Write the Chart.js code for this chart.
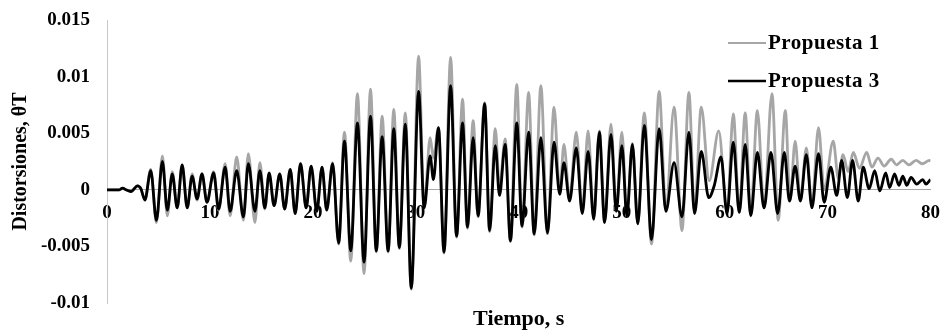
<!DOCTYPE html>
<html>
<head>
<meta charset="utf-8">
<script src="https://cdn.jsdelivr.net/npm/chart.js@4.4.1/dist/chart.umd.min.js"></script>
<style>
  html, body { margin: 0; padding: 0; background: #fff; }
  canvas { display: block; }
</style>
</head>
<body>
<canvas id="chart" width="952" height="335"></canvas>
<script>
// Series names
const seriesNames = ['Propuesta 1', 'Propuesta 3'];

// Propuesta 1 (grey): time of each peak / trough and its value
const tiempo1 = [
  0, 1.2, 1.52, 1.85, 2.33, 2.97, 3.29, 3.68, 4.25, 4.8,
  5.38, 5.86, 6.34, 6.82, 7.3, 7.79, 8.27, 8.75, 9.23, 9.71,
  10.36, 10.84, 11.48, 11.96, 12.6, 13.25, 13.73, 14.37, 14.85, 15.33,
  15.75, 16.23, 16.78, 17.26, 17.8, 18.28, 18.8, 19.35, 19.83, 20.38,
  20.89, 21.34, 21.92, 22.5, 23.07, 23.68, 24.33, 24.97, 25.6, 26.16,
  26.73, 27.31, 27.86, 28.4, 28.98, 29.56, 30.27, 30.81, 31.39, 31.71,
  32.2, 32.74, 33.38, 33.96, 34.54, 35.02, 35.57, 36.05, 36.69, 37.17,
  37.72, 38.13, 38.68, 39.19, 39.81, 40.32, 40.96, 41.5, 42.15, 42.79,
  43.43, 43.98, 44.39, 44.94, 45.59, 46.17, 46.74, 47.28, 47.83, 48.34,
  48.96, 49.47, 50.02, 50.5, 51.04, 51.56, 52.2, 52.9, 53.64, 54.29,
  55.09, 55.86, 56.53, 57.08, 57.73, 58.5, 59.43, 60.23, 60.84, 61.42,
  62.0, 62.54, 63.18, 63.83, 64.6, 65.2, 65.9, 66.35, 66.85, 67.36,
  67.94, 68.48, 69.12, 69.67, 70.55, 71.05, 71.5, 72.0, 72.5, 73.1,
  73.8, 74.3, 74.9, 75.5, 76.18, 76.7, 77.3, 77.9, 78.6, 79.2,
  79.9, 80
];
const prop1 = [
  0, 0, 0.00015, 0, -0.00015, 0.00035, 0.0001, -0.0009, 0.0018, -0.0029,
  0.003, -0.0023, 0.0016, -0.0016, 0.0022, -0.0016, 0.0014, -0.0009, 0.0014, -0.0011,
  0.0016, -0.0018, 0.0023, -0.0023, 0.0029, -0.0027, 0.0032, -0.0029, 0.0024, -0.0017,
  0.0014, -0.0014, 0.0014, -0.0017, 0.0018, -0.0021, 0.0023, -0.0016, 0.0021, -0.0019,
  0.002, -0.0018, 0.0024, -0.0048, 0.0051, -0.0063, 0.0085, -0.0074, 0.0089, -0.0055,
  0.0065, -0.0055, 0.0071, -0.0052, 0.0068, -0.0088, 0.0118, -0.0015, 0.0046, 0.0028,
  0.0055, -0.0056, 0.0117, -0.0042, 0.008, -0.0034, 0.0061, -0.0024, 0.0077, -0.0037,
  0.0054, 0.0002, 0.0045, -0.0046, 0.0093, -0.0033, 0.0086, -0.004, 0.0092, -0.0039,
  0.0073, -0.0002, 0.004, -0.0008, 0.0051, -0.0019, 0.0052, -0.0025, 0.0052, -0.0028,
  0.0058, -0.0018, 0.0051, -0.0022, 0.0041, -0.003, 0.0068, -0.0048, 0.0087, -0.0017,
  0.0073, -0.0036, 0.0086, -0.0019, 0.0073, 0.0008, 0.0052, -0.002, 0.0067, -0.002,
  0.0068, -0.0022, 0.007, -0.0016, 0.0085, -0.0027, 0.007, -0.001, 0.0043, -0.0009,
  0.0037, -0.0014, 0.0055, 0.0000, 0.0043, 0.001, 0.0031, 0.0016, 0.0033, 0.0019,
  0.0033, 0.002, 0.0028, 0.0021, 0.0027, 0.0022, 0.0026, 0.0022, 0.0026, 0.0023,
  0.0026, 0.0025
];

// Propuesta 3 (black)
const tiempo3 = [
  0, 1.2, 1.52, 1.85, 2.33, 2.97, 3.29, 3.68, 4.25, 4.8,
  5.38, 5.86, 6.34, 6.82, 7.3, 7.79, 8.27, 8.75, 9.23, 9.71,
  10.36, 10.84, 11.48, 11.96, 12.6, 13.25, 13.73, 14.37, 14.85, 15.33,
  15.75, 16.23, 16.78, 17.26, 17.8, 18.28, 18.8, 19.35, 19.83, 20.38,
  20.89, 21.34, 21.92, 22.5, 23.07, 23.68, 24.33, 24.97, 25.6, 26.16,
  26.73, 27.31, 27.86, 28.4, 28.98, 29.56, 30.27, 30.81, 31.39, 31.71,
  32.2, 32.74, 33.38, 33.96, 34.54, 35.02, 35.57, 36.05, 36.69, 37.17,
  37.72, 38.13, 38.68, 39.19, 39.81, 40.32, 40.96, 41.5, 42.15, 42.79,
  43.43, 43.98, 44.39, 44.94, 45.59, 46.17, 46.74, 47.28, 47.83, 48.34,
  48.96, 49.47, 50.02, 50.5, 51.04, 51.56, 52.2, 52.9, 53.64, 54.29,
  55.09, 55.86, 56.53, 57.08, 57.73, 58.46, 59.0, 59.65, 60.23, 60.84,
  61.42, 62.0, 62.54, 63.18, 63.83, 64.5, 65.15, 65.8, 66.3, 66.85,
  67.36, 67.94, 68.48, 69.12, 69.67, 70.31, 70.89, 71.37, 71.92, 72.43,
  72.98, 73.46, 74.04, 74.58, 75.07, 75.65, 76.03, 76.51, 76.93, 77.31,
  77.7, 78.11, 78.66, 79.24, 79.56, 80
];
const prop3 = [
  0, 0, 0.00015, 0, -0.00015, 0.00035, 0.0001, -0.0009, 0.0017, -0.0027,
  0.0025, -0.0018, 0.0014, -0.0016, 0.0022, -0.0016, 0.0012, -0.0008, 0.0014, -0.0011,
  0.0015, -0.0017, 0.002, -0.0019, 0.0017, -0.0024, 0.0023, -0.0019, 0.0017, -0.0016,
  0.0015, -0.0014, 0.0014, -0.0017, 0.0018, -0.0021, 0.0023, -0.0016, 0.0021, -0.0019,
  0.002, -0.0018, 0.0023, -0.0047, 0.0043, -0.0054, 0.0059, -0.0064, 0.0065, -0.0054,
  0.0047, -0.0054, 0.0054, -0.0051, 0.0058, -0.0087, 0.0087, -0.0016, 0.003, 0.0009,
  0.0055, -0.0055, 0.0092, -0.0041, 0.0059, -0.0033, 0.0046, -0.0023, 0.0076, -0.0036,
  0.0039, -0.0005, 0.004, -0.0045, 0.0059, -0.0032, 0.0051, -0.0039, 0.0046, -0.0038,
  0.0042, -0.0004, 0.0024, -0.001, 0.0037, -0.0021, 0.0034, -0.0026, 0.0051, -0.0029,
  0.0049, -0.0019, 0.0039, -0.0023, 0.004, -0.003, 0.0057, -0.0044, 0.0054, -0.0019,
  0.0024, -0.0024, 0.0051, -0.0021, 0.0034, -0.0007, 0.0004, 0.0029, -0.0021, 0.0042,
  -0.002, 0.004, -0.0023, 0.0033, -0.0016, 0.0033, -0.0021, 0.0033, -0.001, 0.0021,
  -0.001, 0.0031, -0.0016, 0.0032, -0.0011, 0.002, -0.0005, 0.0026, -0.0007, 0.0026,
  -0.001, 0.002, 0.0001, 0.0017, -0.0001, 0.0015, 0.0002, 0.0014, 0.0004, 0.0012,
  0.0004, 0.0011, 0.0005, 0.0009, 0.0005, 0.0009
];

// Axis tick labels
const yTickLabels = ['-0.01', '-0.005', '0', '0.005', '0.01', '0.015'];
const xTickLabels = ['0', '10', '20', '30', '40', '50', '60', '70', '80'];

const FONT = "'Liberation Serif', 'Times New Roman', serif";
const GREY = '#a6a6a6';

function toPoints(ts, vs) {
  return ts.map(function(t, i) { return {x: t, y: vs[i]}; });
}

// Legend drawn inside the plot, top right
const insideLegend = {
  id: 'insideLegend',
  afterDraw: function(chart) {
    const c = chart.ctx;
    const rows = [
      {ds: chart.data.datasets[1], y: 43},
      {ds: chart.data.datasets[0], y: 81}
    ];
    c.save();
    c.font = 'bold 21px ' + FONT;
    c.letterSpacing = '0.5px';
    c.textBaseline = 'middle';
    c.fillStyle = '#000';
    rows.forEach(function(r) {
      c.strokeStyle = r.ds.borderColor;
      c.lineWidth = r.ds.borderColor === GREY ? 2 : 2.5;
      c.beginPath();
      c.moveTo(728, r.y);
      c.lineTo(766, r.y);
      c.stroke();
      c.fillText(r.ds.label, 768, r.y + 1);
    });
    c.restore();
  }
};

const ctx = document.getElementById('chart').getContext('2d');

new Chart(ctx, {
  type: 'line',
  data: {
    datasets: [
      {
        label: seriesNames[1],
        data: toPoints(tiempo3, prop3),
        borderColor: '#000000',
        borderWidth: 2.8,
        pointRadius: 0,
        cubicInterpolationMode: 'monotone',
        order: 0
      },
      {
        label: seriesNames[0],
        data: toPoints(tiempo1, prop1),
        borderColor: GREY,
        borderWidth: 2.8,
        pointRadius: 0,
        cubicInterpolationMode: 'monotone',
        order: 1
      }
    ]
  },
  options: {
    responsive: false,
    animation: false,
    layout: { padding: { top: 20, right: 14, left: 0, bottom: 0 } },
    plugins: {
      legend: { display: false },
      tooltip: { enabled: false }
    },
    scales: {
      x: {
        type: 'linear',
        position: { y: 0 },
        min: 0,
        max: 80,
        grid: { display: false, drawTicks: false },
        border: { display: true, color: GREY, width: 1 },
        ticks: {
          stepSize: 10,
          autoSkip: false,
          maxRotation: 0,
          padding: 12,
          color: '#000',
          font: { family: FONT, size: 19, weight: 'bold' },
          callback: function(value, index) { return xTickLabels[index]; }
        }
      },
      x2: {
        type: 'linear',
        axis: 'x',
        position: 'bottom',
        min: 0,
        max: 80,
        grid: { display: false, drawTicks: false },
        border: { display: false },
        ticks: { display: false },
        title: {
          display: true,
          text: 'Tiempo, s',
          color: '#000',
          padding: { top: 0, bottom: 2 },
          font: { family: FONT, size: 22, weight: 'bold' }
        },
        afterFit: function(scale) { scale.height = 32; }
      },
      y: {
        type: 'linear',
        min: -0.01,
        max: 0.015,
        grid: { display: false, drawTicks: false },
        border: { display: true, color: '#c8c8c8', width: 1 },
        ticks: {
          stepSize: 0.005,
          padding: 17,
          color: '#000',
          font: { family: FONT, size: 19, weight: 'bold' },
          callback: function(value, index) { return yTickLabels[index]; }
        },
        title: {
          display: true,
          text: 'Distorsiones, θT',
          color: '#000',
          padding: { top: 9, bottom: 0 },
          font: { family: FONT, size: 20, weight: 'bold' }
        },
        afterFit: function(scale) {
          scale.width = 107;
          scale.paddingTop = 0;
          scale.paddingBottom = 0;
        }
      }
    }
  },
  plugins: [insideLegend]
});
</script>
</body>
</html>
